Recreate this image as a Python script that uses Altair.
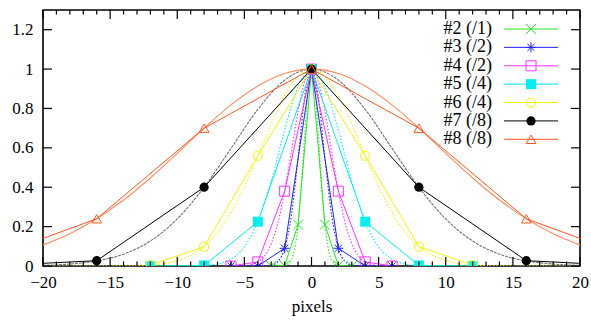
import altair as alt
import pandas as pd

# ---------------- data ----------------
labels = ["#2 (/1)", "#3 (/2)", "#4 (/2)", "#5 (/4)", "#6 (/4)", "#7 (/8)", "#8 (/8)"]
colors = ["#22e822", "#2020ff", "#ff30ff", "#00f0f0", "#f4f400", "#000000", "#ff5522"]
smooth_colors = ["#22e822", "#2020ff", "#ff30ff", "#00f0f0", "#f4f400", "#707070", "#ff8a60"]

# sampled points (markers + straight lines)
green_x = [-3, -2, -1, 0, 1, 2, 3]
green_y = [0.0, 0.002, 0.21, 1.0, 0.21, 0.002, 0.0]
blue_x = [-6, -4, -2, 0, 2, 4, 6]
blue_y = [0.0, 0.0, 0.09, 1.0, 0.09, 0.0, 0.0]
magenta_x = [-6, -4, -2, 0, 2, 4, 6]
magenta_y = [0.0, 0.021, 0.38, 1.0, 0.38, 0.021, 0.0]
cyan_x = [-12, -8, -4, 0, 4, 8, 12]
cyan_y = [0.0, 0.003, 0.225, 1.0, 0.225, 0.003, 0.0]
yellow_x = [-12, -8, -4, 0, 4, 8, 12]
yellow_y = [0.005, 0.098, 0.56, 1.0, 0.56, 0.098, 0.005]
black_x = [-24, -16, -8, 0, 8, 16, 24]
black_y = [0.0003, 0.027, 0.40, 1.0, 0.40, 0.027, 0.0003]
orange_x = [-24, -16, -8, 0, 8, 16, 24]
orange_y = [0.04, 0.24, 0.70, 1.0, 0.70, 0.24, 0.04]

# smooth profiles (read at selected positions)
green_sx = [-2.5, -2, -1.5, -1.25, -1, -0.75, -0.5, -0.25, 0, 0.25, 0.5, 0.75, 1, 1.25, 1.5, 2, 2.5]
green_sy = [0, 0.002, 0.03, 0.087, 0.21, 0.415, 0.677, 0.907, 1, 0.907, 0.677, 0.415, 0.21, 0.087, 0.03, 0.002, 0]
blue_sx = [-4, -3, -2.5, -2, -1.5, -1, -0.5, 0, 0.5, 1, 1.5, 2, 2.5, 3, 4]
blue_sy = [0, 0.004, 0.023, 0.09, 0.258, 0.548, 0.86, 1, 0.86, 0.548, 0.258, 0.09, 0.023, 0.004, 0]
magenta_sx = [-6, -5, -4, -3, -2.5, -2, -1.5, -1, -0.5, 0, 0.5, 1, 1.5, 2, 2.5, 3, 4, 5, 6]
magenta_sy = [0, 0.002, 0.021, 0.114, 0.22, 0.38, 0.58, 0.785, 0.94, 1, 0.94, 0.785, 0.58, 0.38, 0.22, 0.114, 0.021, 0.002, 0]
cyan_sx = [-12, -10, -8, -7, -6, -5, -4, -3, -2, -1, 0, 1, 2, 3, 4, 5, 6, 7, 8, 10, 12]
cyan_sy = [0, 0.0001, 0.003, 0.01, 0.035, 0.097, 0.225, 0.43, 0.69, 0.91, 1, 0.91, 0.69, 0.43, 0.225, 0.097, 0.035, 0.01, 0.003, 0.0001, 0]
yellow_sx = [-20, -16, -14, -12, -10, -9, -8, -7, -6, -5, -4, -3, -2, -1, 0, 1, 2, 3, 4, 5, 6, 7, 8, 9, 10, 12, 14, 16, 20]
yellow_sy = [0, 0.0001, 0.0008, 0.0054, 0.027, 0.053, 0.098, 0.169, 0.271, 0.404, 0.56, 0.72, 0.865, 0.964, 1,
             0.964, 0.865, 0.72, 0.56, 0.404, 0.271, 0.169, 0.098, 0.053, 0.027, 0.0054, 0.0008, 0.0001, 0]
black_sx = [-20, -18, -16, -14, -12, -10, -8, -6, -4, -2, 0, 2, 4, 6, 8, 10, 12, 14, 16, 18, 20]
black_sy = [0.003, 0.01, 0.026, 0.06, 0.127, 0.239, 0.40, 0.597, 0.795, 0.944, 1,
            0.944, 0.795, 0.597, 0.40, 0.239, 0.127, 0.06, 0.026, 0.01, 0.003]
orange_sx = [-20, -18, -16, -14, -12, -10, -8, -6, -4, -2, 0, 2, 4, 6, 8, 10, 12, 14, 16, 18, 20]
orange_sy = [0.107, 0.164, 0.24, 0.335, 0.447, 0.572, 0.70, 0.818, 0.914, 0.978, 1,
             0.978, 0.914, 0.818, 0.70, 0.572, 0.447, 0.335, 0.24, 0.164, 0.107]

# axes
x_labels = [-20, -15, -10, -5, 0, 5, 10, 15, 20]
x_minor = [-19, -18, -17, -16, -14, -13, -12, -11, -9, -8, -7, -6, -4, -3, -2, -1,
           1, 2, 3, 4, 6, 7, 8, 9, 11, 12, 13, 14, 16, 17, 18, 19]
y_labels = [0, 0.2, 0.4, 0.6, 0.8, 1.0, 1.2]

# ---------------- styling ----------------
FONT = "Liberation Serif"
W, H = 537, 256
X_PATH = "M-1,-1L1,1M-1,1L1,-1"
STAR_PATH = "M-1,0L1,0M0,-1L0,1M-0.72,-0.72L0.72,0.72M-0.72,0.72L0.72,-0.72"
shapes = [X_PATH, STAR_PATH, "square", "square", "circle", "circle", "triangle-up"]
filled = [False, False, False, True, False, True, False]
sizes = [100, 100, 100, 100, 85, 85, 95]
smooth_dash = [[1.5, 1.8], [1.5, 1.8], [1.5, 1.8], [1.5, 1.8], [1.5, 1.8], [3, 1], None]

pts = [(green_x, green_y), (blue_x, blue_y), (magenta_x, magenta_y), (cyan_x, cyan_y),
       (yellow_x, yellow_y), (black_x, black_y), (orange_x, orange_y)]
smooth = [(green_sx, green_sy), (blue_sx, blue_sy), (magenta_sx, magenta_sy), (cyan_sx, cyan_sy),
          (yellow_sx, yellow_sy), (black_sx, black_sy), (orange_sx, orange_sy)]

xs = alt.Scale(domain=[-20, 20], nice=False, zero=False)
ys = alt.Scale(domain=[0, 1.3], nice=False, zero=False)
xaxis = alt.Axis(values=x_labels, ticks=False, domain=False, grid=False, labelFont=FONT,
                 labelFontSize=17, labelColor="black", labelPadding=8, title="pixels",
                 titleFont=FONT, titleFontSize=17, titleFontWeight="normal", titleColor="black",
                 titlePadding=8, labelFlush=False)
yaxis = alt.Axis(values=y_labels, ticks=False, domain=False, grid=False, labelFont=FONT,
                 labelFontSize=17, labelColor="black", labelPadding=10, format="~g", title=None)


def X(f):
    return alt.X(f, type="quantitative", scale=xs, axis=xaxis)


def Y(f):
    return alt.Y(f, type="quantitative", scale=ys, axis=yaxis)


main_layers = []
# smooth curves
for i, (sx, sy) in enumerate(smooth):
    df = pd.DataFrame({"x": sx, "y": sy})
    kw = dict(color=smooth_colors[i], strokeWidth=1.1, clip=True, interpolate="monotone")
    if smooth_dash[i] is not None:
        kw["strokeDash"] = smooth_dash[i]
    main_layers.append(alt.Chart(df).mark_line(**kw).encode(x=X("x"), y=Y("y")))
# sampled polylines + markers
for i, (px, py) in enumerate(pts):
    df = pd.DataFrame({"x": px, "y": py})
    main_layers.append(alt.Chart(df).mark_line(color=colors[i], strokeWidth=1, clip=True)
                       .encode(x=X("x"), y=Y("y")))
for i, (px, py) in enumerate(pts):
    df = pd.DataFrame({"x": px, "y": py})
    main_layers.append(alt.Chart(df).mark_point(shape=shapes[i], filled=filled[i], size=sizes[i],
                                                color=colors[i], strokeWidth=1, opacity=1, clip=True)
                       .encode(x=X("x"), y=Y("y")))

# inward ticks
tick_major = pd.DataFrame({"v": x_labels})
tick_minor = pd.DataFrame({"v": x_minor})
ytick = pd.DataFrame({"v": y_labels})
tk = dict(color="black", strokeWidth=1.2)
main_layers += [
    alt.Chart(tick_major).mark_rule(**tk).encode(x=X("v"), y=alt.value(H), y2=alt.value(H - 9)),
    alt.Chart(tick_major).mark_rule(**tk).encode(x=X("v"), y=alt.value(0), y2=alt.value(9)),
    alt.Chart(tick_minor).mark_rule(**tk).encode(x=X("v"), y=alt.value(H), y2=alt.value(H - 4.5)),
    alt.Chart(tick_minor).mark_rule(**tk).encode(x=X("v"), y=alt.value(0), y2=alt.value(4.5)),
    alt.Chart(ytick).mark_rule(**tk).encode(y=Y("v"), x=alt.value(0), x2=alt.value(9)),
    alt.Chart(ytick).mark_rule(**tk).encode(y=Y("v"), x=alt.value(W), x2=alt.value(W - 9)),
]
main = alt.layer(*main_layers)

# manual key (top right)
ly = alt.Scale(domain=[0, 6], range=[19, 129.3])
leg_layers = []
for i, lab in enumerate(labels):
    d = pd.DataFrame({"row": [i], "label": [lab]})
    base = alt.Chart(d)
    leg_layers.append(base.mark_text(align="right", baseline="middle", font=FONT, fontSize=18,
                                     color="black")
                      .encode(x=alt.value(449), y=alt.Y("row:Q", scale=ly, axis=None), text="label:N"))
    leg_layers.append(base.mark_rule(color=colors[i], strokeWidth=1)
                      .encode(x=alt.value(461), x2=alt.value(515), y=alt.Y("row:Q", scale=ly, axis=None)))
    leg_layers.append(base.mark_point(shape=shapes[i], filled=filled[i], size=sizes[i], color=colors[i],
                                      strokeWidth=1, opacity=1)
                      .encode(x=alt.value(488), y=alt.Y("row:Q", scale=ly, axis=None)))
legend = alt.layer(*leg_layers)

chart = alt.layer(main, legend).resolve_scale(y="independent").properties(
    width=W, height=H,
    padding={"left": 43, "top": 10, "right": 11, "bottom": 56},
    autosize=alt.AutoSizeParams(type="none"),
    background="white",
).configure_view(stroke="black", strokeWidth=1.6)

chart.save("out.html", embed_options={"renderer": "svg", "actions": False})
